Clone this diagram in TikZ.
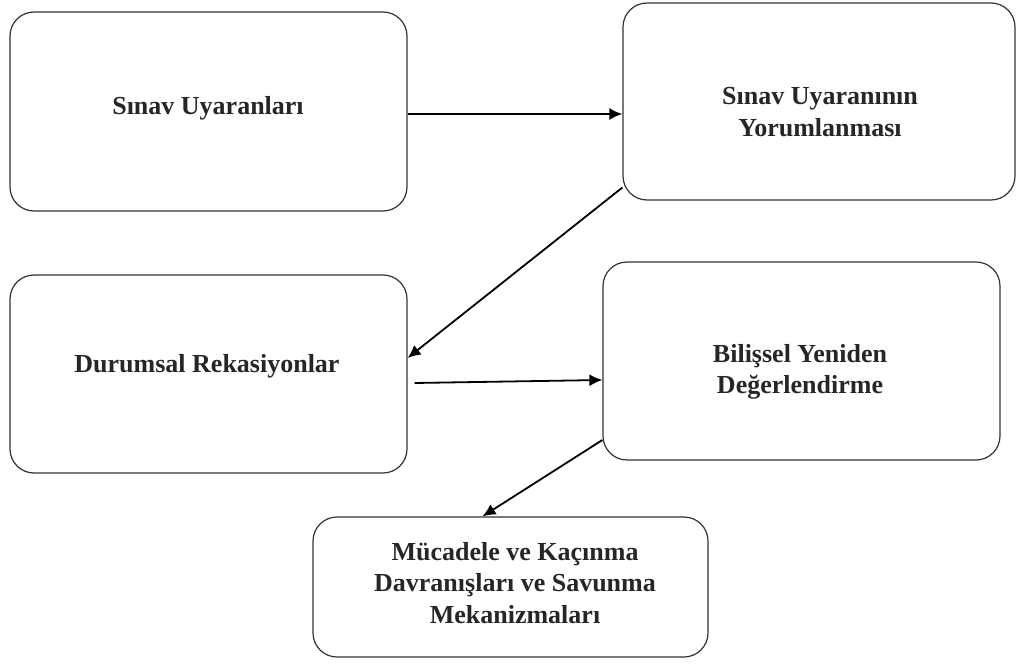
\documentclass[tikz,border=0pt]{standalone}
\usepackage{fontspec}
\setmainfont{Liberation Serif}
\usetikzlibrary{calc}
\usetikzlibrary{arrows.meta, shapes, positioning}

\begin{document}
\begin{tikzpicture}[x=1pt, y=-1pt]
   \tikzstyle{stage}=[rectangle, draw=black!80, line width=1.2pt, rounded corners=24pt, inner sep=0pt]
   \tikzstyle{caption}=[align=center, text=black!85, inner sep=0pt, font=\fontsize{26}{31.5}\selectfont\bfseries]
   \tikzstyle{flow}=[draw=black, line width=1.8pt, -{Latex[length=13pt, width=12pt]}]

   \useasboundingbox (0,0) rectangle (1020,671);

   % stage boxes
   \draw (208.5, 111.5) node[stage, minimum width=397pt, minimum height=199pt] (s1) {};
   \draw (819, 101.5) node[stage, minimum width=392pt, minimum height=197pt] (s2) {};
   \draw (208.5, 374) node[stage, minimum width=397pt, minimum height=198pt] (s3) {};
   \draw (801.5, 361) node[stage, minimum width=397pt, minimum height=198pt] (s4) {};
   \draw (510.5, 587) node[stage, minimum width=395pt, minimum height=140pt] (s5) {};

   % box texts
   \draw (208, 108) node[caption] (t1) {Sınav Uyaranları};
   \draw (820, 112) node[caption] (t2) {Sınav Uyaranının\\Yorumlanması};
   \draw (207, 366) node[caption] (t3) {Durumsal Rekasiyonlar};
   \draw (800, 372) node[caption] (t4) {Bilişsel Yeniden\\Değerlendirme};
   \draw (515, 583) node[caption] (t5) {Mücadele ve Kaçınma\\Davranışları ve Savunma\\Mekanizmaları};

   % arrows
   \draw[flow] ([yshift=-2.5pt]s1.east) -- ([yshift=-12.5pt]s2.west);
   \draw[flow] ([yshift=-86pt]s2.west) -- ([yshift=16pt]s3.east);
   \draw[flow] ([xshift=7pt, yshift=-9pt]s3.east) -- ([yshift=-19pt]s4.west);
   \draw[flow] ([yshift=-79pt]s4.west) -- ([xshift=-28pt]s5.north);
\end{tikzpicture}
\end{document}
